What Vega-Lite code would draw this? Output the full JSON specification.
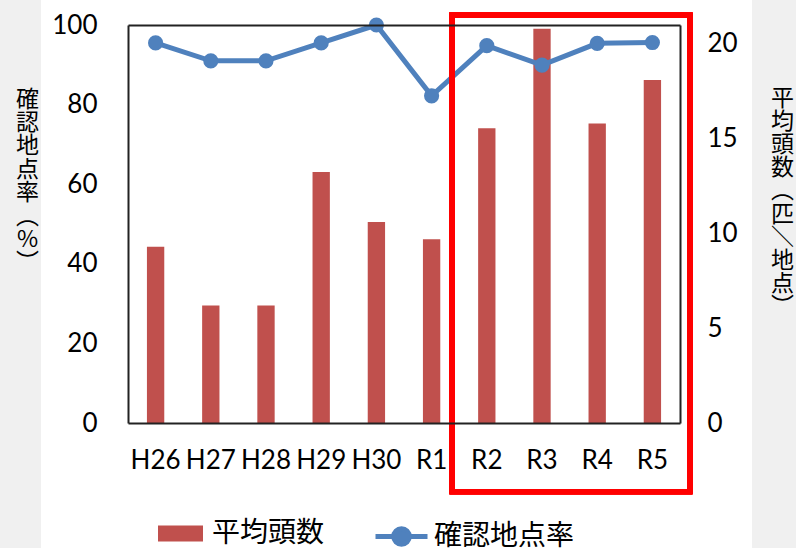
{
  "$schema": "https://vega.github.io/schema/vega-lite/v6.json",
  "width": 552,
  "height": 398,
  "autosize": {"type": "none"},
  "padding": {"left": 128, "top": 25, "right": 116, "bottom": 125},
  "background": "#f0f0f0",
  "config": {
    "view": {"stroke": null},
    "font": "Lato",
    "axis": {"labelFont": "Lato", "labelFontSize": 26, "labelColor": "#000", "ticks": false, "grid": false, "domainColor": "#222", "domainWidth": 2, "zindex": 1, "titleFont": "Noto Sans CJK JP", "titleFontWeight": "normal", "titleColor": "#000"},
    "legend": {"zindex": 1}
  },
  "data": {"values": [
    {"year": "H26", "count": 9.3, "rate": 95.5},
    {"year": "H27", "count": 6.2, "rate": 91.0},
    {"year": "H28", "count": 6.2, "rate": 91.0},
    {"year": "H29", "count": 13.25, "rate": 95.5},
    {"year": "H30", "count": 10.6, "rate": 100},
    {"year": "R1", "count": 9.7, "rate": 82.2},
    {"year": "R2", "count": 15.55, "rate": 94.8},
    {"year": "R3", "count": 20.8, "rate": 89.9},
    {"year": "R4", "count": 15.8, "rate": 95.4},
    {"year": "R5", "count": 18.1, "rate": 95.6}
  ]},
  "layer": [
    {
      "mark": {"type": "rect", "fill": "#ffffff", "zindex": 0},
      "encoding": {
        "x": {"datum": -1.576, "type": "quantitative", "scale": {"domain": [0, 10], "nice": false, "zero": false}, "axis": null},
        "x2": {"datum": 11.3},
        "y": {"datum": 107, "type": "quantitative", "scale": {"domain": [0, 100], "nice": false}, "axis": null},
        "y2": {"datum": -32}
      }
    },
    {
      "mark": {"type": "bar", "color": "#c0504d", "zindex": 1},
      "encoding": {
        "x": {"field": "year", "type": "nominal", "sort": null,
          "scale": {"paddingInner": 0.686, "paddingOuter": 0.343},
          "axis": {"orient": "bottom", "title": null, "labelAngle": 0, "labelPadding": 24, "domain": true, "zindex": 2}},
        "y": {"field": "count", "type": "quantitative",
          "scale": {"domain": [0, 21], "nice": false},
          "axis": {"orient": "right", "values": [0, 5, 10, 15, 20], "labelPadding": 27, "domain": true, "zindex": 2,
            "title": ["平", "均", "頭", "数", "︵", "匹", "＼", "地", "点", "︶"],
            "titleAngle": 0, "titleAlign": "center", "titleBaseline": "top", "titleFontSize": 23, "titleLineHeight": 23.2,
            "titleX": 102, "titleY": 62}},
        "color": {"datum": "平均頭数", "scale": {"range": ["#c0504d"]},
          "legend": {"orient": "none", "legendX": 30, "legendY": 486, "title": null, "padding": 0, "zindex": 3,
            "symbolType": "M-1,-0.36H1V0.36H-1Z", "symbolSize": 2025, "symbolStrokeWidth": 0,
            "labelFont": "Noto Sans CJK JP", "labelFontSize": 28, "labelColor": "#000", "labelOffset": 9}}
      }
    },
    {
      "mark": {"type": "line", "strokeWidth": 5, "color": "#4f81bd", "zindex": 3, "point": {"filled": true, "size": 230, "color": "#4f81bd", "zindex": 3}},
      "encoding": {
        "x": {"field": "year", "type": "nominal", "sort": null,
          "scale": {"paddingInner": 0.686, "paddingOuter": 0.343},
          "axis": {"orient": "top", "title": null, "labels": false, "domain": true, "zindex": 2}},
        "y": {"field": "rate", "type": "quantitative",
          "scale": {"domain": [0, 100], "nice": false},
          "axis": {"orient": "left", "values": [0, 20, 40, 60, 80, 100], "labelPadding": 31, "domain": true, "zindex": 2,
            "title": ["確", "認", "地", "点", "率", "︵", "%", "︶"],
            "titleAngle": 0, "titleAlign": "center", "titleBaseline": "top", "titleFontSize": 23, "titleLineHeight": 23.4,
            "titleX": -101, "titleY": 63}},
        "color": {"datum": "確認地点率", "scale": {"range": ["#4f81bd"]},
          "legend": {"orient": "none", "legendX": 245, "legendY": 483, "title": null, "padding": 0, "zindex": 3,
            "symbolType": "M-1,0H1M-0.3,0A0.3,0.3 0 1 1 0.3,0A0.3,0.3 0 1 1 -0.3,0Z", "symbolSize": 2704,
            "symbolStrokeWidth": 5, "symbolStrokeColor": "#4f81bd", "symbolFillColor": "#4f81bd",
            "labelFont": "Noto Sans CJK JP", "labelFontSize": 28, "labelColor": "#000", "labelOffset": 4,
            "encode": {"symbols": {"update": {"fill": {"value": "#4f81bd"}, "stroke": {"value": "#4f81bd"}, "opacity": {"value": 1}}}}}}
      }
    },
    {
      "mark": {"type": "rect", "fill": null, "stroke": "#ff0000", "strokeWidth": 5, "zindex": 4},
      "encoding": {
        "x": {"datum": 5.87, "type": "quantitative", "scale": {"domain": [0, 10], "nice": false, "zero": false}, "axis": null},
        "x2": {"datum": 10.18},
        "y": {"datum": 102.5, "type": "quantitative", "scale": {"domain": [0, 100], "nice": false}, "axis": null},
        "y2": {"datum": -17.3}
      }
    }
  ],
  "resolve": {
    "scale": {"x": "independent", "y": "independent", "color": "independent"},
    "axis": {"x": "independent", "y": "independent"},
    "legend": {"color": "independent"}
  }
}
